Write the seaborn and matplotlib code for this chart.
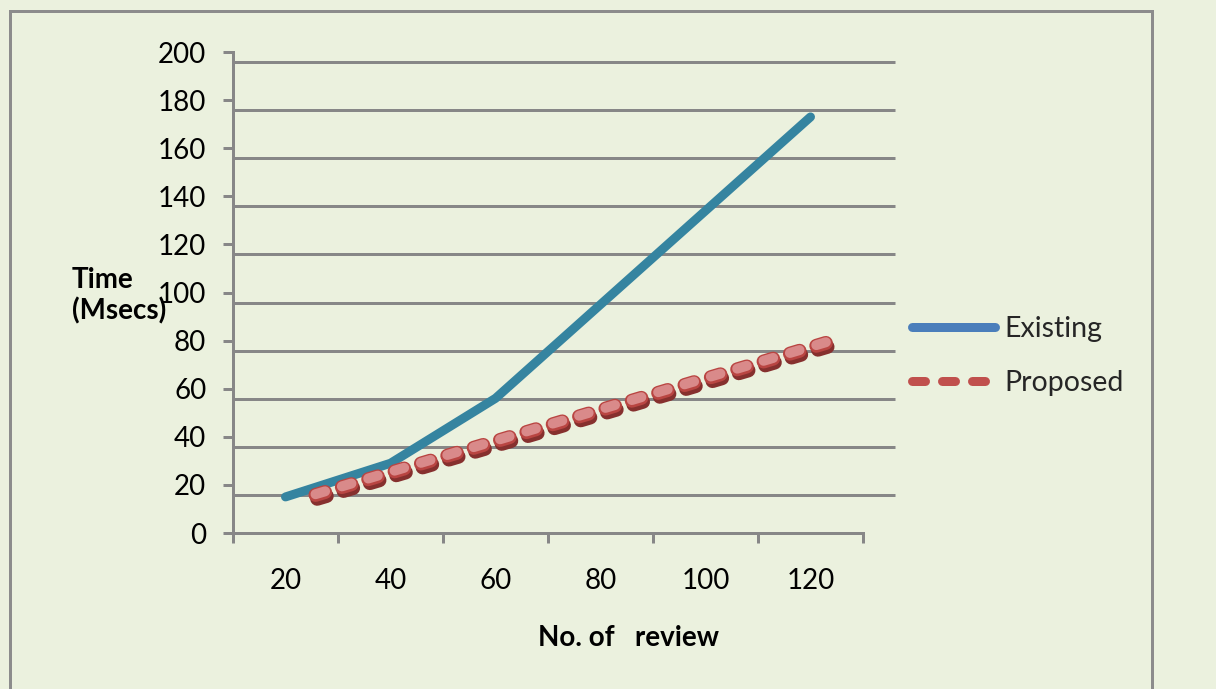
import numpy as np
import pandas as pd
import matplotlib
matplotlib.use("Agg")
import matplotlib.pyplot as plt
import matplotlib.patheffects as pe
from matplotlib.lines import Line2D
from matplotlib.patches import Rectangle
from matplotlib.transforms import ScaledTranslation
import seaborn as sns

# ---- data -------------------------------------------------------------
reviews = [20, 40, 60, 80, 100, 120]
existing = [15, 29, 56, 95, 134, 173]
proposed = [20, 33, 46, 59, 72, 85]
y_ticks = [0, 20, 40, 60, 80, 100, 120, 140, 160, 180, 200]

# ---- styling ----------------------------------------------------------
BG = "#EBF1DE"
GRID = "#878787"
EXIST_COLOR = "#3584A0"
EXIST_LEGEND = "#4A7EBB"
PROP_COLOR = "#C0504D"

sns.set_theme(style="white")
plt.rcParams["font.family"] = ["Lato", "DejaVu Sans"]
plt.rcParams["lines.scale_dashes"] = False

W, H, DPI = 1216, 689, 100


def px(p):
    """pixels -> points"""
    return p * 72.0 / DPI


fig = plt.figure(figsize=(W / DPI, H / DPI), dpi=DPI, facecolor=BG)
ax = fig.add_axes([233 / W, 1 - 533 / H, 630 / W, 481 / H])
ax.set_facecolor("none")

df = pd.DataFrame({
    "pos": np.arange(len(reviews)),
    "Existing": existing,
    "Proposed": proposed,
})

# depth offset used for the back wall (gridlines and the rear series)
depth = ScaledTranslation(30 / DPI, -10 / DPI, fig.dpi_scale_trans)
wall = ScaledTranslation(0, -10 / DPI, fig.dpi_scale_trans)

# back-wall gridlines
for v in y_ticks[1:]:
    gl = ax.axhline(v, xmin=0, xmax=1 + 32 / 630, color=GRID, lw=px(3),
                    clip_on=False, zorder=1, solid_capstyle="butt")
    gl.set_transform(ax.get_yaxis_transform() + wall)

# existing series
sns.lineplot(data=df, x="pos", y="Existing", ax=ax, color=EXIST_COLOR,
             lw=px(9), errorbar=None, legend=False, zorder=3)
l_exist = ax.lines[-1]
l_exist.set_solid_capstyle("round")
l_exist.set_solid_joinstyle("round")

# proposed series (bevelled dashed line on the rear plane)
sns.lineplot(data=df, x="pos", y="Proposed", ax=ax, color=PROP_COLOR,
             lw=px(14), errorbar=None, legend=False, zorder=4)
l_prop = ax.lines[-1]
l_prop.set_dashes([px(10), px(17.5)])
l_prop.set_dash_capstyle("round")
l_prop.set_transform(ax.transData + depth)
l_prop.set_clip_on(False)
l_prop.set_path_effects([
    pe.SimpleLineShadow(offset=(1.2, -2.8), shadow_color="#86302E", alpha=1.0),
    pe.Stroke(linewidth=px(14), foreground="#B94542"),
    pe.Stroke(offset=(0, 0.5), linewidth=px(10), foreground="#D98A8A"),
])

# ---- axes -------------------------------------------------------------
n = len(reviews)
ax.set_xlim(-0.5, n - 0.5)
ax.set_ylim(0, 200)
ax.set_xticks(np.arange(n + 1) - 0.5)
ax.set_xticklabels([])
ax.set_xticks(np.arange(n), minor=True)
ax.set_xticklabels([str(r) for r in reviews], minor=True)
ax.tick_params(axis="x", which="both", bottom=True)
ax.tick_params(axis="x", which="major", length=px(10), width=px(3),
               color=GRID, direction="out")
ax.tick_params(axis="x", which="minor", length=0, pad=25, labelsize=20,
               labelcolor="black")
ax.set_yticks(y_ticks)
ax.set_yticklabels([str(t) for t in y_ticks])
ax.tick_params(axis="y", left=True, length=px(10), width=px(3), color=GRID,
               direction="out", pad=12, labelsize=20, labelcolor="black")
ax.grid(False)
for side in ("top", "right"):
    ax.spines[side].set_visible(False)
for side in ("left", "bottom"):
    ax.spines[side].set_color(GRID)
    ax.spines[side].set_linewidth(px(3))
ax.set_ylabel("")

ax.set_xlabel("No. of   review", fontsize=20, fontweight="bold", color="black")
ax.xaxis.label.set_va("center")
ax.xaxis.set_label_coords((628 - 233) / 630, (533 - 638) / 481)

fig.text(72 / W, 1 - 296 / H, "Time\n(Msecs)", ha="left", va="center",
         fontsize=20, fontweight="bold", color="black", linespacing=1.2)

# ---- legend -----------------------------------------------------------
handles = [
    Line2D([], [], color=EXIST_LEGEND, lw=px(9), solid_capstyle="round"),
    Line2D([], [], color=PROP_COLOR, lw=px(9), dash_capstyle="round",
           dashes=[px(13), px(17)]),
]
fig.legend(handles, ["Existing", "Proposed"], loc="center left",
           bbox_to_anchor=(912 / W, 1 - 356 / H), frameon=False,
           fontsize=20.5, handlelength=2.9, handletextpad=0.35,
           labelspacing=1.0, borderaxespad=0, borderpad=0)

# chart-area border
fig.add_artist(Rectangle((10 / W, -0.05), (1152 - 10) / W, 1 - 11 / H + 0.05,
                         transform=fig.transFigure, fill=False,
                         edgecolor="#8C8C8C", lw=px(3)))

fig.savefig("out.png", dpi=DPI, facecolor=BG)
